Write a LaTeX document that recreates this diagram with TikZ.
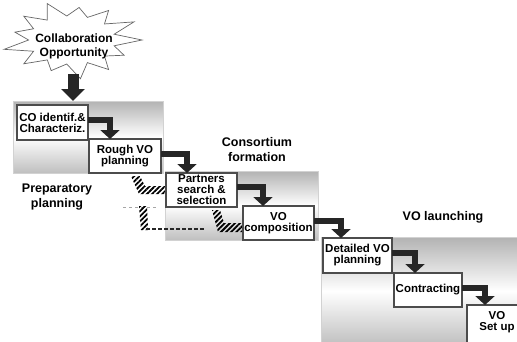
\documentclass[tikz,border=0pt]{standalone}
\usepackage{fontspec}
\setmainfont{Liberation Sans}
\usetikzlibrary{arrows.meta,patterns.meta}
\begin{document}
\begin{tikzpicture}[x=1pt,y=-1pt,
  panel/.style={anchor=north west, inner sep=0pt, outer sep=0pt, top color=gray!60, bottom color=gray!50, middle color=white, draw=gray!35, line width=0.6pt},
  stage/.style={draw=black!70, line width=1.1pt, fill=white, anchor=north west, inner sep=1pt, outer sep=0pt, align=center, font=\fontsize{11.5}{11}\selectfont\bfseries},
  phase/.style={align=center, font=\fontsize{12.5}{15}\selectfont\bfseries},
  flow/.style={line width=6pt, draw=black!85, -{Triangle[width=19pt,length=9pt]}},
  bigflow/.style={line width=11pt, draw=black!85, -{Triangle[width=23pt,length=12pt]}},
  hatch/.style={pattern={Lines[angle=45,distance=3.6pt,line width=1.8pt]}},
]
\useasboundingbox (0,0) rectangle (517,341);

% panels
\node[panel, minimum width=150pt, minimum height=72pt] (p1) at (13,101) {};
\node[panel, minimum width=153pt, minimum height=69pt] (p2) at (165,171) {};
\node[panel, minimum width=200pt, minimum height=108pt] (p3) at (321,237) {};

% hatched feedback marks
\fill[hatch] (131,176) -- (140,176) -- (145,186) -- (165,186) -- (165,194) -- (139,194) -- cycle;
\draw[gray!70, line width=1pt, dash pattern=on 3pt off 3pt] (123,207) -- (158,207);
\fill[hatch] (139,206) -- (147,206) -- (148,230) -- (141,230) -- cycle;
\draw[black!85, line width=1.6pt, dash pattern=on 3.5pt off 2.5pt] (146,229) -- (205,229);
\fill[hatch] (212,210) -- (220,210) -- (224,223) -- (243,223) -- (243,232) -- (218,232) -- cycle;

% star
\draw[fill=white, draw=black!60, line width=0.7pt]
  (142,40) \foreach \i [evaluate=\i as \a using \i*360/26,
     evaluate=\i as \r using {ifthenelse(mod(\i,2)==0,1-0.08*mod(\i,3),0.62)}] in {1,...,25}
     { -- ({72+70*\r*cos(\a)},{40+39*\r*sin(\a)}) } -- cycle;
\node[phase, font=\fontsize{12}{14}\selectfont\bfseries] (co) at (74,46) {Collaboration\\Opportunity};
\coordinate (starbot) at (73,74);

% stages
\node[stage, minimum width=71pt, minimum height=35pt] (s1) at (17,105) {CO identif.\&\\Characteriz.};
\node[stage, minimum width=72pt, minimum height=34pt] (s2) at (89,139) {Rough VO\\planning};
\node[stage, minimum width=71pt, minimum height=34pt] (s3) at (166,173) {Partners\\search \&\\selection};
\node[stage, minimum width=71pt, minimum height=34pt] (s4) at (243,206) {VO\\composition};
\node[stage, minimum width=69pt, minimum height=35pt] (s5) at (323,238) {Detailed VO\\planning};
\node[stage, minimum width=68pt, minimum height=34pt] (s6) at (394,273) {Contracting};
\node[stage, minimum width=60pt, minimum height=40pt] (s7) at (467,305) {VO\\Set up\\[-6pt]\strut};

% phase labels
\node[phase] (l1) at (57,197) {Preparatory\\planning};
\node[phase] (l2) at (257,150) {Consortium\\formation};
\node[phase] (l3) at (443,217) {VO launching};

% arrows
\draw[bigflow] (starbot) -- (starbot |- p1.north);
\draw[flow] ([yshift=3pt]s1.east) -| ([xshift=21pt]s2.north west);
\draw[flow] ([yshift=2pt]s2.east) -| ([xshift=21pt]s3.north west);
\draw[flow] ([yshift=3pt]s3.east) -| ([xshift=20pt]s4.north west);
\draw[flow] ([yshift=2pt]s4.east) -| ([xshift=18pt]s5.north west);
\draw[flow] ([yshift=3pt]s5.east) -| ([xshift=21pt]s6.north west);
\draw[flow] ([yshift=2pt]s6.east) -| ([xshift=18pt]s7.north west);
\end{tikzpicture}
\end{document}
